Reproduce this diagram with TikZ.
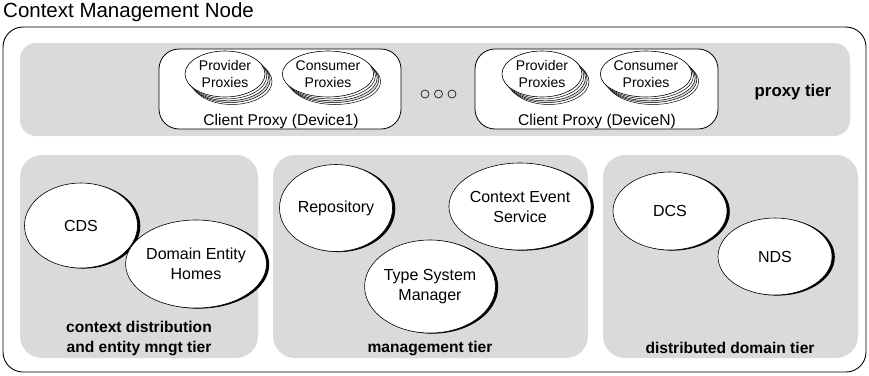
\documentclass[tikz,border=0pt]{standalone}
\usepackage{fontspec}
\setmainfont{Liberation Sans}
\usetikzlibrary{shapes.geometric,shadows}
\definecolor{tiergray}{RGB}{218,218,218}
\tikzset{
  x=1pt, y=-1pt,
  tier/.style={fill=tiergray, draw=none, rounded corners=22pt},
  comp/.style={ellipse, draw, fill=white, line width=0.6pt,
    minimum width=114pt, minimum height=86pt, inner sep=0pt, align=center,
    font=\fontsize{16}{20}\selectfont,
    copy shadow={shadow xshift=2.8pt, shadow yshift=-0.6pt, fill=black, draw=none}},
  proxy/.style={ellipse, draw, fill=white, line width=0.6pt,
    minimum width=80pt, minimum height=46pt, inner sep=0pt, align=center,
    font=\fontsize{14}{16.5}\selectfont,
    copy shadow={shadow xshift=7pt, shadow yshift=-7.5pt, fill=white, draw=black, line width=0.5pt},
    copy shadow={shadow xshift=5.2pt, shadow yshift=-5.6pt, fill=tiergray, draw=black, line width=0.5pt},
    copy shadow={shadow xshift=3.5pt, shadow yshift=-3.8pt, fill=white, draw=black, line width=0.5pt},
    copy shadow={shadow xshift=1.8pt, shadow yshift=-1.9pt, fill=white, draw=black, line width=0.5pt}},
  clientbox/.style={draw, fill=white, line width=0.8pt, rounded corners=20pt},
  tierlabel/.style={font=\bfseries\fontsize{15.6}{20}\selectfont, align=center},
  clientlabel/.style={font=\fontsize{15.6}{17}\selectfont},
  dot/.style={circle, draw, line width=0.6pt, minimum size=8pt, inner sep=0pt}
}
\begin{document}
\begin{tikzpicture}
\useasboundingbox (0,0) rectangle (869,375);

% title and outer frame
\node[anchor=west, font=\fontsize{20.5}{23}\selectfont, inner sep=0pt] (title) at (3,12.5) {Context Management Node};
\draw[line width=0.9pt, rounded corners=20pt] (3,27) rectangle (866,372);

% proxy tier
\fill[tier, rounded corners=16pt] (20,43) rectangle (850,136);
\draw[clientbox] (159,49) rectangle (401,129);
\draw[clientbox] (475,49) rectangle (718,129);

\node[proxy] (pp1) at (225,74) {Provider\\Proxies};
\node[proxy] (cp1) at (328,74) {Consumer\\Proxies};
\node[clientlabel] (cl1) at (281,121) {Client Proxy (Device1)};

\node[proxy] (ppn) at (542,74) {Provider\\Proxies};
\node[proxy] (cpn) at (646,74) {Consumer\\Proxies};
\node[clientlabel] (cln) at (597,121) {Client Proxy (DeviceN)};

\node[dot] (d1) at (425,94) {};
\node[dot] (d2) at (438.5,94) {};
\node[dot] (d3) at (452,94) {};

\node[tierlabel, font=\bfseries\fontsize{16.8}{20}\selectfont] (proxytier) at (793,92) {proxy tier};

% context distribution and entity management tier
\fill[tier] (20,155) rectangle (258,358);
\node[comp, minimum width=113pt, minimum height=85pt] (cds) at (81,225.5) {CDS};
\node[comp, minimum width=115pt, minimum height=88pt] (deh) at (196,264) {Domain Entity\\Homes};
\node[tierlabel] (t1) at (139,338) {context distribution\\and entity mngt tier};

% management tier
\fill[tier] (273,155) rectangle (588,358);
\node[comp, minimum width=113pt, minimum height=87pt] (repo) at (336,208) {Repository};
\node[comp, minimum width=113pt, minimum height=87pt] (ces) at (520,206.5) {Context Event\\Service};
\node[comp, minimum width=115pt, minimum height=93pt] (tsm) at (430,286.5) {Type System\\Manager};
\node[tierlabel] (t2) at (430,348) {management tier};

% distributed domain tier
\fill[tier] (603,155) rectangle (858,358);
\node[comp, minimum width=114pt, minimum height=78pt] (dcs) at (670,211) {DCS};
\node[comp, minimum width=114pt, minimum height=77pt] (nds) at (775,256.5) {NDS};
\node[tierlabel] (t3) at (730,348) {distributed domain tier};
\end{tikzpicture}
\end{document}
